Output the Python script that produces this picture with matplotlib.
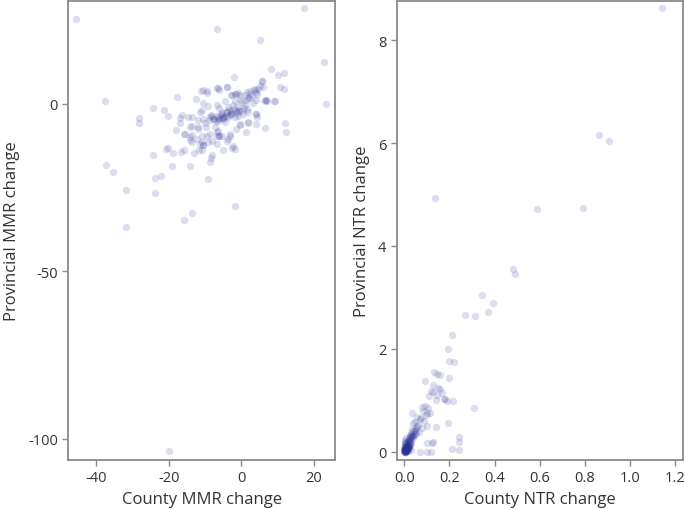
import matplotlib
matplotlib.use("Agg")
import matplotlib.pyplot as plt

plt.rcParams['font.family'] = ['Open Sans', 'DejaVu Sans']

# ---- Left panel: MMR change (county vs provincial) ----
county_mmr = [
    -45.6, 17.3, -6.7, 5.2, 22.9, 23.4, -37.6, -28.3, -28.1, -37.2, -35.4, -31.8, -31.9,
    -15.7, -13.6, -1.6, -9.2, -23.8, -23.9, -22.0, -24.3, -24.3, -21.4, -20.3, -17.7,
    -11.0, -6.5, -3.9, -1.9, 8.2, 10.3, 11.7, 5.8, 10.7, 11.7, 9.4, 6.5, 12.1, 12.5,
    6.5, 1.3, 4.1, 4.4, -2.6, -3.9, -3.1, -6.2, -5.1, -8.1, -8.4, -8.6, -14.0, -19.0,
    -20.8, -20.1, -18.8, -16.6, -15.8, -13.0, -11.5, -10.5, -18.0, -15.9, -13.7, -14.0,
    -13.7, -12.0, -16.9, -16.4, -13.7, -17.0, -12.4, -9.4, -11.3, -8.0, -10.9, -10.6,
    -10.9, -9.5, -6.1, -6.8, -0.4, 2.0, 4.2, 6.8, -19.8,
    -11.9, -10.5, -10.0, -8.6, -8.2, -7.7, -6.8, -6.3, -5.4, -4.9, -4.5, -3.6, -4.0,
    -2.7, -1.7, -0.8, 0.1, 0.6, 1.5, 2.0, -5.4, -1.7, -0.4, 0.3, 1.3, 2.1, 1.0, -0.8,
    -2.2, -3.6, -4.2, -2.8, -1.5, -10.5, -9.1, -10.7, -4.5, -6.8, -6.1, 4.1, 6.6, 9.2,
    -14.2, -11.9, -9.6, -7.3, -6.3, -8.6, -10.9, -12.3, -14.2, -13.7, -6.8, -5.4, -3.1,
    -3.6, -6.8, -9.1, -11.4, -1.3, -0.4, 2.0, 4.2, -2.2, -1.7, -15.5, -14.6,
    5.7, 6.1, 5.2, -6.6, -6.1, -4.0, -9.4, -10.6, -2.6, -1.5, -0.4, 1.5, 2.4, 3.8, 4.7,
    7.0, 3.5, 4.2, 2.4, 1.0, 1.8, 3.0, 4.4, -2.9, -1.7, -0.8,
    -5.0, -4.6, -2.0, -1.2, -7.5, -8.0, -3.2, -0.5, -6.0, -5.8, -2.5, 0.8, -4.2, -7.0,
    -9.0, -1.0, 3.2, -3.4, -5.2, -6.4,
]
provincial_mmr = [
    25.2, 28.6, 22.2, 19.2, 12.5, -0.2, 0.9, -4.3, -5.7, -18.3, -20.3, -25.6, -36.9,
    -34.6, -32.5, -30.4, -22.4, -26.6, -22.2, -21.6, -15.3, -1.3, -1.9, -3.6, 2.1,
    3.8, 4.7, 4.9, 8.1, 10.4, 8.6, 9.2, 6.7, 5.0, 4.3, 0.9, 1.0, -5.7, -8.5,
    -7.1, -8.4, -2.9, -3.8, -13.2, -11.2, -9.5, -9.5, -13.9, -15.4, -16.3, -17.3, -18.7, -18.5,
    -13.4, -13.3, -14.8, -14.3, -13.7, -14.8, -13.9, -12.4, -7.8, -9.0, -9.2, -10.8,
    -6.5, -7.0, -4.3, -3.4, -3.8, -5.6, 1.3, 3.3, -2.4, -11.2, -11.4, -12.4,
    -13.9, -9.5, -9.6, -8.4, -6.2, -5.7, -3.0, 1.0, -103.6,
    -4.8, -4.6, -5.7, -4.0, -3.3, -4.5, -3.5, -5.0, -4.0, -4.5, -5.5, -4.0, -2.5,
    -3.0, -4.0, -3.5, -2.0, -3.0, -1.5, -2.5, -2.5, 0.7, 1.1, 0.5, 1.0, 1.7, -0.5, -1.0,
    -0.5, -1.0, -2.3, -2.1, -2.2, 0.3, -0.7, -1.9, 0.7, -0.5, -1.2, 1.0, 0.8, 0.8,
    -7.0, -7.5, -7.0, -7.0, -8.0, -9.0, -9.5, -10.5, -9.9, -11.4, -9.5, -9.5, -9.0,
    -10.5, -11.9, -11.4, -11.9, -7.5, -6.0, -5.5, -6.0, -12.6, -13.4, -9.0, -4.0,
    6.9, 5.0, 5.3, 4.7, 4.0, 4.9, 3.8, 4.0, 2.5, 3.0, 2.7, 3.5, 3.0, 4.0, 4.5,
    0.8, 4.3, 3.5, 3.8, 2.5, 1.8, 2.2, 2.8, 2.7, 2.9, 3.1,
    -4.2, -3.8, -1.5, -2.8, -4.4, -3.6, -3.4, -1.8, -4.6, -3.2, -2.6, -1.2, -3.5, -5.2,
    -4.8, -2.2, 0.2, -1.8, -3.0, -4.1,
]

# ---- Right panel: NTR change (county vs provincial) ----
county_ntr = [
    1.145, 0.865, 0.909, 0.135, 0.589, 0.793,
    0.484, 0.491, 0.346, 0.391, 0.369, 0.271, 0.312, 0.212, 0.193, 0.200, 0.218,
    0.131, 0.144, 0.159, 0.092, 0.196, 0.126, 0.148, 0.156, 0.119, 0.126, 0.111,
    0.144, 0.166, 0.181, 0.188, 0.215, 0.309, 0.077, 0.092, 0.107, 0.114, 0.100,
    0.033, 0.058, 0.070, 0.085, 0.048, 0.037, 0.193, 0.139, 0.100, 0.077, 0.063,
    0.040, 0.026, 0.048, 0.102, 0.122, 0.129, 0.070, 0.102, 0.117, 0.244, 0.244,
    0.212, 0.243, 0.030, 0.018, 0.141, 0.178, 0.082, 0.095, 0.072,
    0.036, 0.045, 0.050, 0.033, 0.028, 0.040, 0.022, 0.030, 0.015, 0.025, 0.020,
    0.012, 0.018, 0.010, 0.008, 0.014, 0.005, 0.006, 0.004, 0.003, 0.002, 0.001,
    0.000, 0.000, 0.001, 0.002, 0.004, 0.007, 0.009, 0.011, 0.013, 0.016, 0.019,
    0.021, 0.024, 0.027, 0.031, 0.034, 0.038, 0.042, 0.046, 0.052, 0.055, 0.060,
    0.003, 0.005, 0.008, 0.010, 0.012, 0.015, 0.000, 0.001, 0.002, 0.006, 0.009,
    0.004, 0.007, 0.011, 0.014, 0.017, 0.020, 0.023, 0.026, 0.029,
    0.000, 0.001, 0.002, 0.003, 0.004, 0.005, 0.006, 0.007, 0.008, 0.010, 0.012,
    0.000, 0.002, 0.004, 0.006, 0.008, 0.010, 0.013, 0.016, 0.019, 0.022, 0.025,
]
provincial_ntr = [
    8.62, 6.15, 6.04, 4.94, 4.72, 4.73,
    3.56, 3.46, 3.04, 2.90, 2.72, 2.65, 2.64, 2.27, 2.00, 1.77, 1.75,
    1.55, 1.51, 1.49, 1.38, 1.44, 1.29, 1.24, 1.21, 1.18, 1.16, 1.08,
    1.10, 1.14, 1.03, 0.98, 0.98, 0.84, 0.87, 0.88, 0.84, 0.75, 0.75,
    0.75, 0.68, 0.64, 0.59, 0.57, 0.56, 0.56, 0.48, 0.49, 0.46, 0.38,
    0.40, 0.33, 0.33, 0.17, 0.17, 0.18, 0.00, 0.00, 0.00, 0.29, 0.19,
    0.06, 0.04, 0.04, 0.07, 1.00, 1.03, 0.80, 0.72, 0.66,
    0.45, 0.42, 0.36, 0.30, 0.36, 0.27, 0.25, 0.22, 0.20, 0.28, 0.15,
    0.18, 0.12, 0.10, 0.14, 0.08, 0.05, 0.12, 0.02, 0.08, 0.04, 0.01,
    0.03, 0.00, 0.06, 0.10, 0.00, 0.03, 0.15, 0.05, 0.07, 0.10, 0.20,
    0.12, 0.16, 0.24, 0.28, 0.33, 0.30, 0.35, 0.41, 0.46, 0.50, 0.52,
    0.18, 0.22, 0.06, 0.02, 0.09, 0.01, 0.10, 0.16, 0.13, 0.26, 0.04,
    0.00, 0.00, 0.05, 0.21, 0.11, 0.07, 0.19, 0.31, 0.14,
    0.01, 0.03, 0.00, 0.05, 0.02, 0.07, 0.04, 0.09, 0.06, 0.11, 0.08,
    0.04, 0.00, 0.02, 0.01, 0.03, 0.05, 0.02, 0.06, 0.09, 0.12, 0.15,
]

mmr_xticks = [-40, -20, 0, 20]
mmr_yticks = [-100, -50, 0]
ntr_xticks = [0.0, 0.2, 0.4, 0.6, 0.8, 1.0, 1.2]
ntr_yticks = [0, 2, 4, 6, 8]

W, H = 685, 510
fig = plt.figure(figsize=(W / 100, H / 100), dpi=100)
ax1 = fig.add_axes([68.3 / W, (H - 460.7) / H, (335 - 68.3) / W, 459 / H])
ax2 = fig.add_axes([396.7 / W, (H - 460.7) / H, (683 - 396.7) / W, 459 / H])

pt_color = '#2a2f96'
for ax, xs, ys in [(ax1, county_mmr, provincial_mmr), (ax2, county_ntr, provincial_ntr)]:
    ax.scatter(xs, ys, s=28, color=pt_color, alpha=0.16, linewidths=0)
    for sp in ax.spines.values():
        sp.set_color('#8a8a8a')
        sp.set_linewidth(1.3)
    ax.tick_params(colors='#8a8a8a', labelcolor='#333333', labelsize=10.5,
                   length=4, width=1.0, direction='out')

ax1.set_xlim(-47.7, 25.9)
ax1.set_ylim(-106.3, 30.8)
ax1.set_xticks(mmr_xticks)
ax1.set_yticks(mmr_yticks)
ax1.set_xticklabels([str(v) for v in mmr_xticks])
ax1.set_yticklabels([str(v) for v in mmr_yticks])
ax1.set_xlabel('County MMR change', fontsize=12, color='#333333', labelpad=4)
ax1.set_ylabel('Provincial MMR change', fontsize=12, color='#333333', labelpad=6)

ax2.set_xlim(-0.034, 1.236)
ax2.set_ylim(-0.156, 8.77)
ax2.set_xticks(ntr_xticks)
ax2.set_yticks(ntr_yticks)
ax2.set_xticklabels([f'{v:.1f}' for v in ntr_xticks])
ax2.set_yticklabels([str(v) for v in ntr_yticks])
ax2.set_xlabel('County NTR change', fontsize=12, color='#333333', labelpad=4)
ax2.set_ylabel('Provincial NTR change', fontsize=12, color='#333333', labelpad=6)

fig.savefig('out.png', dpi=100)
